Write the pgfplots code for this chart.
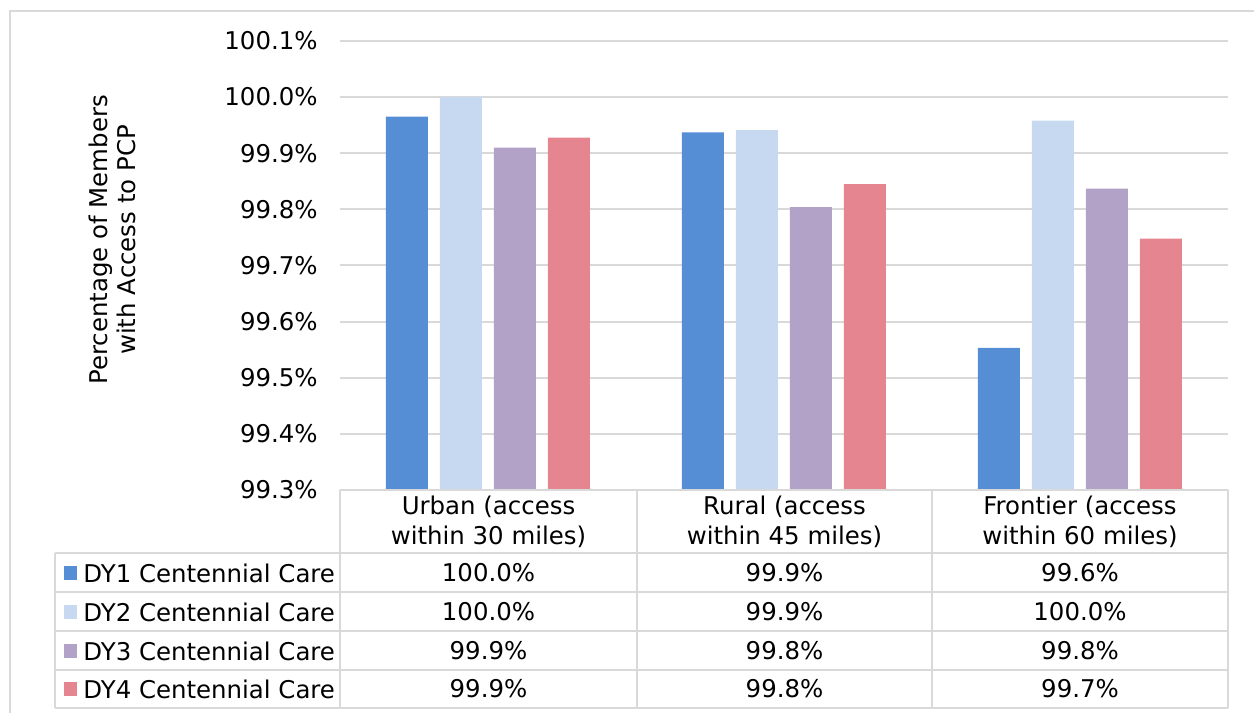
\documentclass[border=0pt]{standalone}
\usepackage{pgfplots}
\pgfplotsset{compat=1.18}
\usepackage{fontspec}
\setmainfont{DejaVu Sans}

\definecolor{dyone}{HTML}{558ED5}
\definecolor{dytwo}{HTML}{C6D9F0}
\definecolor{dythree}{HTML}{B3A2C7}
\definecolor{dyfour}{HTML}{E5858F}
\definecolor{gridgray}{HTML}{D9D9D9}

\begin{document}
\fontsize{13.9}{17}\selectfont
\begin{tikzpicture}
  \begin{axis}[
      at={(6.8cm,-9.8cm)}, anchor=south west,
      scale only axis,
      width=17.76cm, height=8.98cm,
      ybar=0.24cm, bar width=0.84cm,
      xmin=-0.5, xmax=2.5,
      ymin=99.3, ymax=100.1,
      xtick=\empty,
      ytick={99.3,99.4,...,100.15},
      yticklabel={\pgfmathprintnumber[fixed,fixed zerofill,precision=1]{\tick}\%},
      /pgf/number format/assume math mode=true,
      yticklabel style={anchor=east, inner sep=0pt, xshift=-0.44cm},
      ymajorgrids, grid style={gridgray, line width=1.1pt},
      axis line style={draw=none},
      major tick length=0pt,
      tick style={draw=none},
      clip=false]
    \addplot[fill=dyone, draw=none] coordinates {(0,99.965) (1,99.937) (2,99.553)};
    \addplot[fill=dytwo, draw=none] coordinates {(0,100.0) (1,99.941) (2,99.958)};
    \addplot[fill=dythree, draw=none] coordinates {(0,99.910) (1,99.804) (2,99.837)};
    \addplot[fill=dyfour, draw=none] coordinates {(0,99.928) (1,99.845) (2,99.748)};
  \end{axis}
  \begin{scope}[x=0.02cm, y=-0.02cm]
    % outer frame (cut at right and bottom)
    \draw[gridgray, line width=1.1pt] (10,713) -- (10,11) -- (1254,11);
    % y label
    \node[rotate=90, align=center, inner sep=0pt] at (112,240)
      {Percentage of Members\\[-1pt]with Access to PCP};
    % data table grid
    \begin{scope}[gridgray, line width=1.1pt]
      \draw (340,490) -- (1228,490);
      \foreach \yy in {553,592,631,670,708} \draw (55,\yy) -- (1228,\yy);
      \draw (55,553) -- (55,708);
      \foreach \xx in {340,637,932,1228} \draw (\xx,490) -- (\xx,708);
    \end{scope}
    % category headers
    \foreach \cx/\a/\b in {488.5/Urban (access/within 30 miles),
                           784.5/Rural (access/within 45 miles),
                           1080/Frontier (access/within 60 miles)} {
      \node[inner sep=0pt] at (\cx,507) {\a};
      \node[inner sep=0pt] at (\cx,537) {\b};
    }
    % legend entries
    \foreach \yy/\c/\n in {573/dyone/1, 612/dytwo/2, 651/dythree/3, 689/dyfour/4} {
      \fill[\c] (64,\yy-7) rectangle (77,\yy+7);
      \node[anchor=west, inner sep=0pt] at (83,\yy) {DY\n\ Centennial Care};
    }
    % values
    \foreach \yy/\u/\r/\f in {573/100.0/99.9/99.6, 612/100.0/99.9/100.0,
                              651/99.9/99.8/99.8, 689/99.9/99.8/99.7} {
      \node[inner sep=0pt] at (488.5,\yy) {\u\%};
      \node[inner sep=0pt] at (784.5,\yy) {\r\%};
      \node[inner sep=0pt] at (1080,\yy) {\f\%};
    }
    \pgfresetboundingbox
    \path[use as bounding box] (0,0) rectangle (1254,713);
  \end{scope}
\end{tikzpicture}
\end{document}
